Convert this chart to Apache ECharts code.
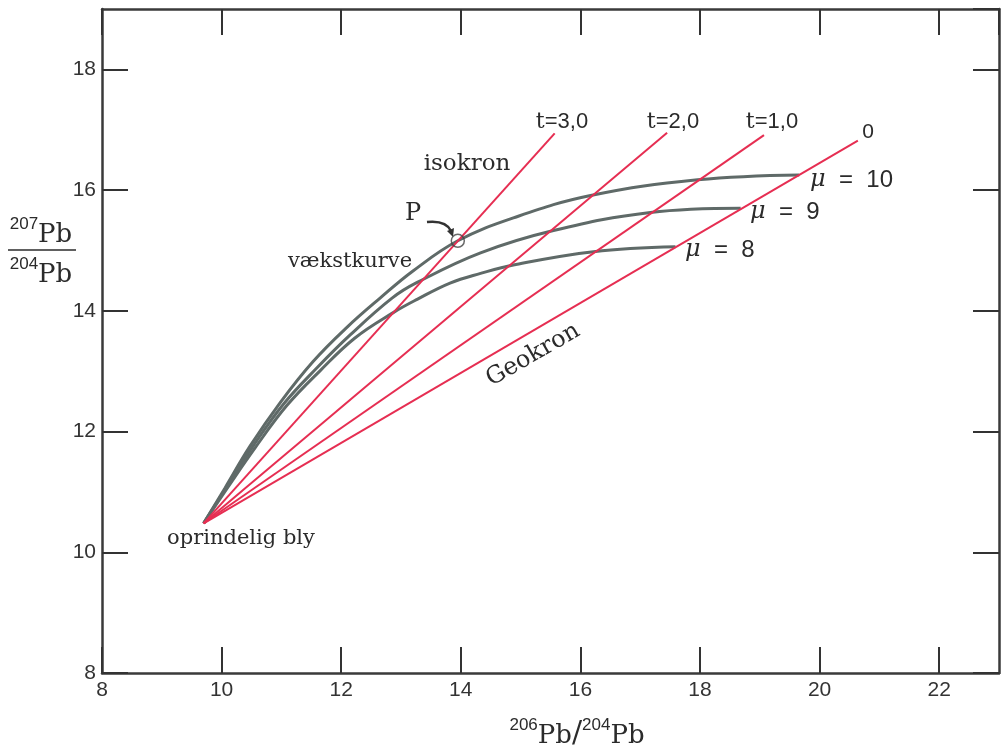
<!DOCTYPE html>
<html>
<head>
<meta charset="utf-8">
<title>Pb-Pb vækstkurver og isokroner</title>
<script src="https://cdn.jsdelivr.net/npm/echarts@6/dist/echarts.min.js"></script>
<style>
html,body{margin:0;padding:0;background:#fff;}
#chart{width:1002px;height:753px;}
</style>
</head>
<body>
<div id="chart"></div>
<script>
// værdier (206Pb/204Pb, 207Pb/204Pb)
var origin = [9.70, 10.48]; // oprindelig bly
var isoNames = ['t=3,0', 't=2,0', 't=1,0', '0'];
var isoEnds = [[15.57, 16.94], [17.45, 16.95], [19.07, 16.91], [20.64, 16.82]];

var mu10 = [[9.70,10.48],[10.06,11.07],[10.47,11.75],[10.98,12.48],[11.53,13.16],[12.10,13.73],
	[12.65,14.21],[13.20,14.66],[13.95,15.16],[14.88,15.54],[16.17,15.91],[17.96,16.17],[19.66,16.25]];
var mu9 = [[9.70,10.48],[10.09,11.09],[10.52,11.75],[11.04,12.46],[11.60,13.06],[12.15,13.60],
	[12.85,14.21],[13.27,14.47],[14.33,14.96],[15.55,15.33],[17.17,15.63],[18.68,15.70]];
var mu8 = [[9.70,10.48],[10.12,11.10],[10.56,11.73],[11.09,12.43],[11.65,13.01],[12.23,13.55],
	[12.87,13.97],[13.27,14.19],[13.82,14.46],[14.33,14.62],[14.88,14.76],[16.22,14.98],[17.59,15.06]];
var pointP = [13.95, 15.16];

var xMin = 8, xMax = 23, yMin = 8, yMax = 19, step = 2;

var red = '#e62e52';
var grey = '#5f6a68';
var ink = '#2b2b2b';
var serif = '"DejaVu Serif", "Liberation Serif", serif';
var sans = '"Liberation Sans", Arial, sans-serif';

var dom = echarts.init(document.getElementById('chart'));

var series = [];
// vækstkurver
[mu10, mu9, mu8].forEach(function(d){
	series.push({
		type: 'line', data: d, showSymbol: false, smooth: 0.4,
		lineStyle: {color: grey, width: 3}, z: 2, silent: true
	});
});
// isokroner + geokron
for (var i = 0; i < isoEnds.length; i++) {
	series.push({
		name: isoNames[i], type: 'line', data: [origin, isoEnds[i]], showSymbol: false,
		lineStyle: {color: red, width: 2}, z: 3, silent: true
	});
}
// P
series.push({
	type: 'scatter', data: [pointP], symbol: 'circle', symbolSize: 13, z: 4, silent: true,
	itemStyle: {color: 'rgba(0,0,0,0)', borderColor: '#444', borderWidth: 1.5}
});

function axisBase(extra){
	var a = {
		type: 'value', min: 0, max: 0, interval: step,
		splitLine: {show: false},
		axisLine: {show: true, lineStyle: {color: '#3a3a3a', width: 2.5}},
		axisTick: {show: true, inside: true, length: 26, lineStyle: {color: '#333', width: 2}},
		axisLabel: {show: false}
	};
	for (var k in extra) a[k] = extra[k];
	return a;
}

var labelStyle = {show: true, color: '#333', fontFamily: sans, fontSize: 21, showMaxLabel: false};

function tLabel(txt, x, y){
	return {type: 'text', x: x, y: y, style: {text: '{t|t}' + txt, align: 'center', verticalAlign: 'middle', fill: ink,
		fontFamily: sans, fontSize: 22, rich: {t: {fontFamily: serif, fontSize: 22, fill: ink}}}};
}
function muLabel(txt, x, y){
	return {type: 'text', x: x, y: y, style: {text: '{m|μ}  =  ' + txt, align: 'left', verticalAlign: 'middle', fill: ink,
		fontFamily: sans, fontSize: 24, rich: {m: {fontFamily: serif, fontStyle: 'italic', fontSize: 24, fill: ink}}}};
}
function serifLabel(txt, x, y, size){
	return {type: 'text', x: x, y: y, style: {text: txt, align: 'center', verticalAlign: 'middle', fill: ink, fontFamily: serif, fontSize: size}};
}
var fracRich = {
	s: {fontFamily: sans, fontSize: 17, verticalAlign: 'top', lineHeight: 32, fill: ink},
	p: {fontFamily: serif, fontSize: 26, verticalAlign: 'bottom', lineHeight: 32, fill: ink},
	l: {fontFamily: serif, fontSize: 30, verticalAlign: 'bottom', lineHeight: 32, fill: ink}
};

var option = {
	animation: false,
	backgroundColor: '#fff',
	grid: {left: 102, right: 3, top: 9, bottom: 80},
	xAxis: [
		axisBase({min: xMin, max: xMax, position: 'bottom', axisLabel: Object.assign({margin: 7}, labelStyle)}),
		axisBase({min: xMin, max: xMax, position: 'top'})
	],
	yAxis: [
		axisBase({min: yMin, max: yMax, position: 'left', axisLabel: Object.assign({margin: 6}, labelStyle)}),
		axisBase({min: yMin, max: yMax, position: 'right'})
	],
	series: series,
	graphic: [
		// akse-titler
		{type: 'text', x: 41, y: 232, style: {text: '{s|207}{p|Pb}', align: 'center', verticalAlign: 'middle', fill: ink, rich: fracRich}},
		{type: 'line', shape: {x1: 8, y1: 250, x2: 76, y2: 250}, style: {stroke: ink, lineWidth: 1.5}},
		{type: 'text', x: 41, y: 272, style: {text: '{s|204}{p|Pb}', align: 'center', verticalAlign: 'middle', fill: ink, rich: fracRich}},
		{type: 'text', x: 577, y: 733, style: {text: '{s|206}{p|Pb}{l|/}{s|204}{p|Pb}', align: 'center', verticalAlign: 'middle', fill: ink, rich: fracRich}},
		// linje-etiketter
		tLabel('=3,0', 562, 122),
		tLabel('=2,0', 673, 122),
		tLabel('=1,0', 772, 122),
		{type: 'text', x: 868, y: 132, style: {text: '0', align: 'center', verticalAlign: 'middle', fill: ink, fontFamily: sans, fontSize: 21}},
		serifLabel('isokron', 467, 164, 23),
		serifLabel('P', 413, 214, 24),
		serifLabel('vækstkurve', 350, 262, 21),
		serifLabel('oprindelig bly', 241, 539, 21),
		{type: 'text', x: 533, y: 355, rotation: 30 * Math.PI / 180, style: {text: 'Geokron', align: 'center', verticalAlign: 'middle', fill: ink, fontFamily: serif, fontSize: 24}},
		muLabel('10', 810, 180),
		muLabel('9', 750, 212),
		muLabel('8', 685, 250),
		// pil til P
		{type: 'bezierCurve', shape: {x1: 427, y1: 222, cpx1: 446, cpy1: 220, x2: 451, y2: 231}, style: {stroke: '#333', lineWidth: 2.5, fill: null}},
		{type: 'polygon', shape: {points: [[453, 237], [454, 228], [447, 231]]}, style: {fill: '#333'}}
	]
};

dom.setOption(option);
</script>
</body>
</html>
